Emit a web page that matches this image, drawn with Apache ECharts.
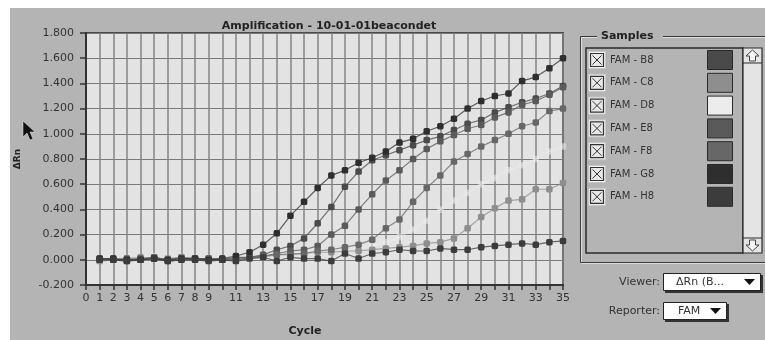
<!DOCTYPE html>
<html>
<head>
<meta charset="utf-8">
<script src="https://cdn.jsdelivr.net/npm/echarts@6/dist/echarts.min.js"></script>
<style>
html,body{margin:0;padding:0;background:#fff;}
#c{width:765px;height:340px;}
</style>
</head>
<body>
<div id="c"></div>
<script>
// ---- data ----
var cycles = [];
for (var i = 1; i <= 35; i++) cycles.push(i);
var sampleNames = ['FAM - B8','FAM - C8','FAM - D8','FAM - E8','FAM - F8','FAM - G8','FAM - H8'];
var sampleColors = ['#4a4a4a','#8e8e8e','#ececec','#5a5a5a','#676767','#2e2e2e','#3c3c3c'];
var yTicks = [-0.2,0,0.2,0.4,0.6,0.8,1.0,1.2,1.4,1.6,1.8];

var famB8 = [0.00,0.01,-0.01,0.01,0.02,0.00,0.02,0.01,0.00,0.00,0.01,0.02,0.04,0.08,0.11,0.17,0.29,0.42,0.58,0.70,0.79,0.83,0.87,0.91,0.95,0.98,1.03,1.08,1.11,1.17,1.21,1.25,1.28,1.32,1.38];
var famC8 = [-0.01,0.00,0.01,0.02,0.01,0.01,0.02,0.01,0.01,0.00,0.00,0.02,0.02,0.04,0.05,0.05,0.06,0.06,0.07,0.07,0.08,0.09,0.10,0.11,0.13,0.14,0.17,0.25,0.34,0.41,0.47,0.48,0.56,0.56,0.61];
var famD8 = [0.00,0.01,0.00,0.02,0.03,0.01,0.02,0.01,0.00,0.01,0.01,0.01,0.02,0.03,0.04,0.05,0.06,0.07,0.08,0.09,0.11,0.14,0.18,0.24,0.31,0.40,0.47,0.53,0.60,0.65,0.71,0.75,0.80,0.86,0.90];
var famE8 = [0.01,0.00,0.00,0.01,0.01,-0.01,0.00,0.01,0.01,0.00,0.02,0.02,0.03,0.05,0.07,0.08,0.11,0.20,0.27,0.40,0.52,0.63,0.71,0.80,0.88,0.94,0.99,1.04,1.07,1.13,1.17,1.23,1.26,1.31,1.37];
var famF8 = [0.00,0.00,0.01,0.00,0.02,0.00,0.01,0.00,0.01,0.01,0.00,0.02,0.03,0.04,0.04,0.05,0.07,0.08,0.10,0.12,0.16,0.25,0.32,0.46,0.57,0.67,0.78,0.84,0.90,0.95,1.00,1.06,1.09,1.18,1.20];
var famG8 = [0.01,0.01,0.00,0.00,0.01,0.00,0.01,0.01,0.00,0.01,0.03,0.06,0.12,0.21,0.35,0.46,0.57,0.67,0.71,0.77,0.81,0.86,0.93,0.96,1.02,1.06,1.12,1.20,1.26,1.30,1.32,1.42,1.45,1.52,1.60];
var famH8 = [0.00,0.00,-0.01,0.00,0.01,-0.01,0.00,0.00,-0.01,0.00,-0.01,0.01,0.02,-0.01,0.02,0.01,0.01,-0.01,0.05,0.01,0.05,0.06,0.08,0.07,0.07,0.09,0.08,0.08,0.10,0.11,0.12,0.13,0.12,0.14,0.15];
var seriesValues = [famB8, famC8, famD8, famE8, famF8, famG8, famH8];

var BG = '#b4b4b4';
var chart = echarts.init(document.getElementById('c'));

var series = seriesValues.map(function (vals, k) {
  var faint = (k === 2);
  return {
    type: 'line',
    name: sampleNames[k],
    data: vals.map(function (v, j) { return [cycles[j], v]; }),
    symbol: 'roundRect',
    symbolSize: 6.5,
    showSymbol: true,
    animation: false,
    itemStyle: { color: sampleColors[k], opacity: faint ? 0.55 : 1 },
    lineStyle: { color: sampleColors[k], width: 1.2, opacity: faint ? 0.55 : 0.75 },
    z: faint ? 1 : 3
  };
});

// ---- right panel graphics ----
var g = [];
g.push({ type: 'rect', shape: { x: 10, y: 8, width: 755, height: 332 }, style: { fill: BG }, z: -10, silent: true });
// cursor
g.push({ type: 'polygon', shape: { points: [[23,121],[23,137],[27,133],[30,140],[33,139],[30,132],[35,132]] }, style: { fill: '#111', stroke: '#eee', lineWidth: 0.5 }, z: 100 });
// group box
g.push({ type: 'rect', shape: { x: 580.5, y: 36.5, width: 200, height: 226 }, style: { fill: 'none', stroke: '#3a3a3a', lineWidth: 1 }, z: 10 });
g.push({ type: 'rect', shape: { x: 581.5, y: 37.5, width: 200, height: 226 }, style: { fill: 'none', stroke: '#dedede', lineWidth: 1 }, z: 9 });
g.push({ type: 'rect', shape: { x: 597, y: 28, width: 66, height: 14 }, style: { fill: BG }, z: 11 });
g.push({ type: 'text', style: { x: 601, y: 36, text: 'Samples', fill: '#222', font: 'bold 11px "DejaVu Sans"', textVerticalAlign: 'middle' }, z: 12 });
// list box
g.push({ type: 'rect', shape: { x: 586, y: 48, width: 157, height: 205 }, style: { fill: BG, stroke: '#2a2a2a', lineWidth: 1.5 }, z: 10 });
// scrollbar
g.push({ type: 'rect', shape: { x: 743, y: 48, width: 19, height: 205 }, style: { fill: '#e4e4e4', stroke: '#2a2a2a', lineWidth: 1.2 }, z: 11 });
g.push({ type: 'line', shape: { x1: 743, y1: 63, x2: 762, y2: 63 }, style: { stroke: '#2a2a2a', lineWidth: 1 }, z: 12 });
g.push({ type: 'line', shape: { x1: 743, y1: 238, x2: 762, y2: 238 }, style: { stroke: '#2a2a2a', lineWidth: 1 }, z: 12 });
g.push({ type: 'polygon', shape: { points: [[752.5,50],[746,56],[749.5,56],[749.5,61],[755.5,61],[755.5,56],[759,56]] }, style: { fill: '#f4f4f4', stroke: '#444', lineWidth: 1 }, z: 12 });
g.push({ type: 'polygon', shape: { points: [[752.5,251],[746,245],[749.5,245],[749.5,240],[755.5,240],[755.5,245],[759,245]] }, style: { fill: '#f4f4f4', stroke: '#444', lineWidth: 1 }, z: 12 });

var rowY0 = 60, rowDy = 22.8;
sampleNames.forEach(function (nm, k) {
  var cy = rowY0 + k * rowDy;
  g.push({ type: 'rect', shape: { x: 588.5, y: cy - 8.5, width: 17, height: 17 }, style: { fill: '#f2f2f2', stroke: '#c8c8c8', lineWidth: 1 }, z: 12 });
  g.push({ type: 'rect', shape: { x: 590.5, y: cy - 6.5, width: 13, height: 13 }, style: { fill: '#e8e8e8', stroke: '#333', lineWidth: 1.2 }, z: 13 });
  g.push({ type: 'line', shape: { x1: 592.5, y1: cy - 4.5, x2: 601.5, y2: cy + 4.5 }, style: { stroke: '#333', lineWidth: 1 }, z: 14 });
  g.push({ type: 'line', shape: { x1: 601.5, y1: cy - 4.5, x2: 592.5, y2: cy + 4.5 }, style: { stroke: '#333', lineWidth: 1 }, z: 14 });
  g.push({ type: 'text', style: { x: 610, y: cy, text: nm, fill: '#333', font: '10px "DejaVu Sans"', textVerticalAlign: 'middle' }, z: 13 });
  g.push({ type: 'rect', shape: { x: 707.5, y: cy - 9.5, width: 25, height: 19 }, style: { fill: sampleColors[k], stroke: '#2a2a2a', lineWidth: 1 }, z: 13 });
});

// Viewer / Reporter
g.push({ type: 'text', style: { x: 660, y: 282, text: 'Viewer:', fill: '#333', font: '11px "DejaVu Sans"', textAlign: 'right', textVerticalAlign: 'middle' }, z: 12 });
g.push({ type: 'rect', shape: { x: 665, y: 275, width: 98, height: 18 }, style: { fill: '#333' }, z: 11 });
g.push({ type: 'rect', shape: { x: 663.5, y: 273.5, width: 97, height: 17 }, style: { fill: '#fff', stroke: '#222', lineWidth: 1 }, z: 12 });
g.push({ type: 'text', style: { x: 676, y: 282, text: '\u0394Rn (B...', fill: '#333', font: '11px "DejaVu Sans"', textVerticalAlign: 'middle' }, z: 13 });
g.push({ type: 'polygon', shape: { points: [[744,279],[755,279],[749.5,285]] }, style: { fill: '#111' }, z: 13 });
g.push({ type: 'text', style: { x: 660, y: 311, text: 'Reporter:', fill: '#333', font: '11px "DejaVu Sans"', textAlign: 'right', textVerticalAlign: 'middle' }, z: 12 });
g.push({ type: 'rect', shape: { x: 665, y: 304, width: 64, height: 18 }, style: { fill: '#333' }, z: 11 });
g.push({ type: 'rect', shape: { x: 663.5, y: 302.5, width: 63, height: 17 }, style: { fill: '#fff', stroke: '#222', lineWidth: 1 }, z: 12 });
g.push({ type: 'text', style: { x: 678, y: 311, text: 'FAM', fill: '#333', font: '11px "DejaVu Sans"', textVerticalAlign: 'middle' }, z: 13 });
g.push({ type: 'polygon', shape: { points: [[710,308],[721,308],[715.5,314]] }, style: { fill: '#111' }, z: 13 });
// x axis name
g.push({ type: 'text', style: { x: 305, y: 331, text: 'Cycle', fill: '#222', font: 'bold 11px "DejaVu Sans"', textAlign: 'center', textVerticalAlign: 'middle' }, z: 12 });

chart.setOption({
  backgroundColor: '#fff',
  animation: false,
  title: {
    text: 'Amplification - 10-01-01beacondet',
    left: 324, top: 16, textAlign: 'center',
    textStyle: { fontFamily: 'DejaVu Sans', fontWeight: 'bold', fontSize: 11, color: '#222' }
  },
  grid: {
    left: 86, right: 202, top: 33, bottom: 55,
    show: true, backgroundColor: '#e3e3e3', borderColor: '#4a4a4a', borderWidth: 2
  },
  xAxis: {
    type: 'value', min: 0, max: 35, interval: 1,
    axisLine: { show: true, onZero: false, lineStyle: { color: '#333', width: 2 } },
    axisTick: { show: true, length: 5, lineStyle: { color: '#333', width: 1.5 } },
    splitLine: { show: true, lineStyle: { color: '#858585', width: 1.5 } },
    axisLabel: {
      margin: 8, color: '#333', fontFamily: 'DejaVu Sans', fontSize: 11,
      hideOverlap: false,
      formatter: function (v) { return (v <= 9 || v % 2 === 1) ? String(v) : ''; }
    }
  },
  yAxis: {
    type: 'value', min: yTicks[0], max: yTicks[yTicks.length - 1], interval: 0.2,
    name: '\u0394Rn', nameLocation: 'middle', nameGap: 64, nameRotate: 90,
    nameTextStyle: { fontFamily: 'DejaVu Sans', fontWeight: 'bold', fontSize: 9, color: '#222' },
    axisLine: { show: true, lineStyle: { color: '#333', width: 2 } },
    axisTick: { show: true, length: 6, lineStyle: { color: '#333', width: 1.5 } },
    splitLine: { show: true, lineStyle: { color: '#7a7a7a', width: 1.2 } },
    axisLabel: {
      margin: 12, color: '#333', fontFamily: 'DejaVu Sans', fontSize: 11,
      formatter: function (v) { return v.toFixed(3); }
    }
  },
  series: series,
  graphic: g
});
</script>
</body>
</html>
